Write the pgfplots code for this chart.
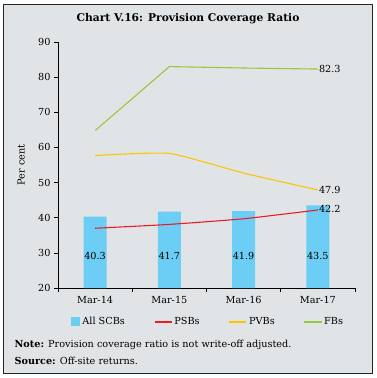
\documentclass[border=0pt]{standalone}
\usepackage{pgfplots}
\pgfplotsset{compat=1.18}
\usepackage{fontspec}
\setmainfont{DejaVu Serif}
\definecolor{bg}{RGB}{225,228,230}
\definecolor{barblue}{RGB}{108,205,245}
\definecolor{psbred}{RGB}{237,28,36}
\definecolor{pvbyel}{RGB}{255,196,0}
\definecolor{fbgreen}{RGB}{150,200,60}
\begin{document}
\begin{tikzpicture}
\fill[white] (0,0) rectangle (376pt,378pt);
\draw[fill=bg, line width=0.8pt, draw=black!85] (3.5pt,5pt) rectangle (372pt,374pt);
\node[font=\fontsize{10.7}{12}\selectfont\bfseries] at (188pt,359pt) {Chart V.16: Provision Coverage Ratio};
\begin{axis}[
  at={(58pt,90pt)}, anchor=south west,
  scale only axis, width=297pt, height=246pt,
  axis lines=left, axis line style={-, line width=0.7pt},
  xmin=-0.5, xmax=3.5, ymin=20, ymax=90,
  ytick={20,30,...,90},
  xtick={0,1,2,3},
  xticklabels={Mar-14,Mar-15,Mar-16,Mar-17},
  every major x tick/.style={draw=none},
  minor xtick={-0.5,0.5,1.5,2.5,3.5},
  tick align=outside, major tick length=4pt, minor tick length=4pt,
  tick style={black, line width=0.6pt},
  /pgf/number format/assume math mode=true,
  tick label style={font=\fontsize{9.7}{11}\selectfont},
  xticklabel style={yshift=-1pt},
  ylabel={Per cent}, ylabel style={font=\fontsize{9.7}{11}\selectfont, at={(axis description cs:-0.10,0.5)}},
  legend columns=4,
  legend style={at={(0.505,-0.138)}, anchor=center, draw=none, fill=none,
    font=\fontsize{9.7}{11}\selectfont, /tikz/every even column/.append style={column sep=27pt}},
  legend image post style={line width=1.4pt},
]
\addplot[ybar, bar width=23pt, fill=barblue, draw=none,
  legend image code/.code={\fill[barblue] (0pt,-4.5pt) rectangle (9.5pt,5pt);}] coordinates {(0,40.3) (1,41.7) (2,41.9) (3,43.5)};
\addlegendentry{All SCBs}
\addplot[psbred, line width=1.1pt, smooth, tension=0.3, mark=none] coordinates {(0,37.0) (1,38.1) (2,39.7) (3,42.2)};
\addlegendentry{PSBs}
\addplot[pvbyel, line width=1.1pt, smooth, tension=0.3, mark=none] coordinates {(0,57.7) (1,58.3) (2,52.7) (3,47.9)};
\addlegendentry{PVBs}
\addplot[fbgreen, line width=1.1pt, mark=none] coordinates {(0,64.8) (1,83.0) (2,82.6) (3,82.3)};
\addlegendentry{FBs}
\begin{scope}[font=\fontsize{9.7}{11}\selectfont]
\node at (axis cs:0,29) {40.3};
\node at (axis cs:1,29) {41.7};
\node at (axis cs:2,29) {41.9};
\node at (axis cs:3,29) {43.5};
\node[anchor=west, inner sep=1pt] at (axis cs:3,82.3) {82.3};
\node[anchor=west, inner sep=1pt] at (axis cs:3,47.9) {47.9};
\node[anchor=west, inner sep=1pt] at (axis cs:3,42.4) {42.2};
\end{scope}
\end{axis}
\node[anchor=west, font=\fontsize{9.7}{11}\selectfont] at (11pt,33pt) {\textbf{Note:} Provision coverage ratio is not write-off adjusted.};
\node[anchor=west, font=\fontsize{9.7}{11}\selectfont] at (11pt,17pt) {\textbf{Source:} Off-site returns.};
\end{tikzpicture}
\end{document}
